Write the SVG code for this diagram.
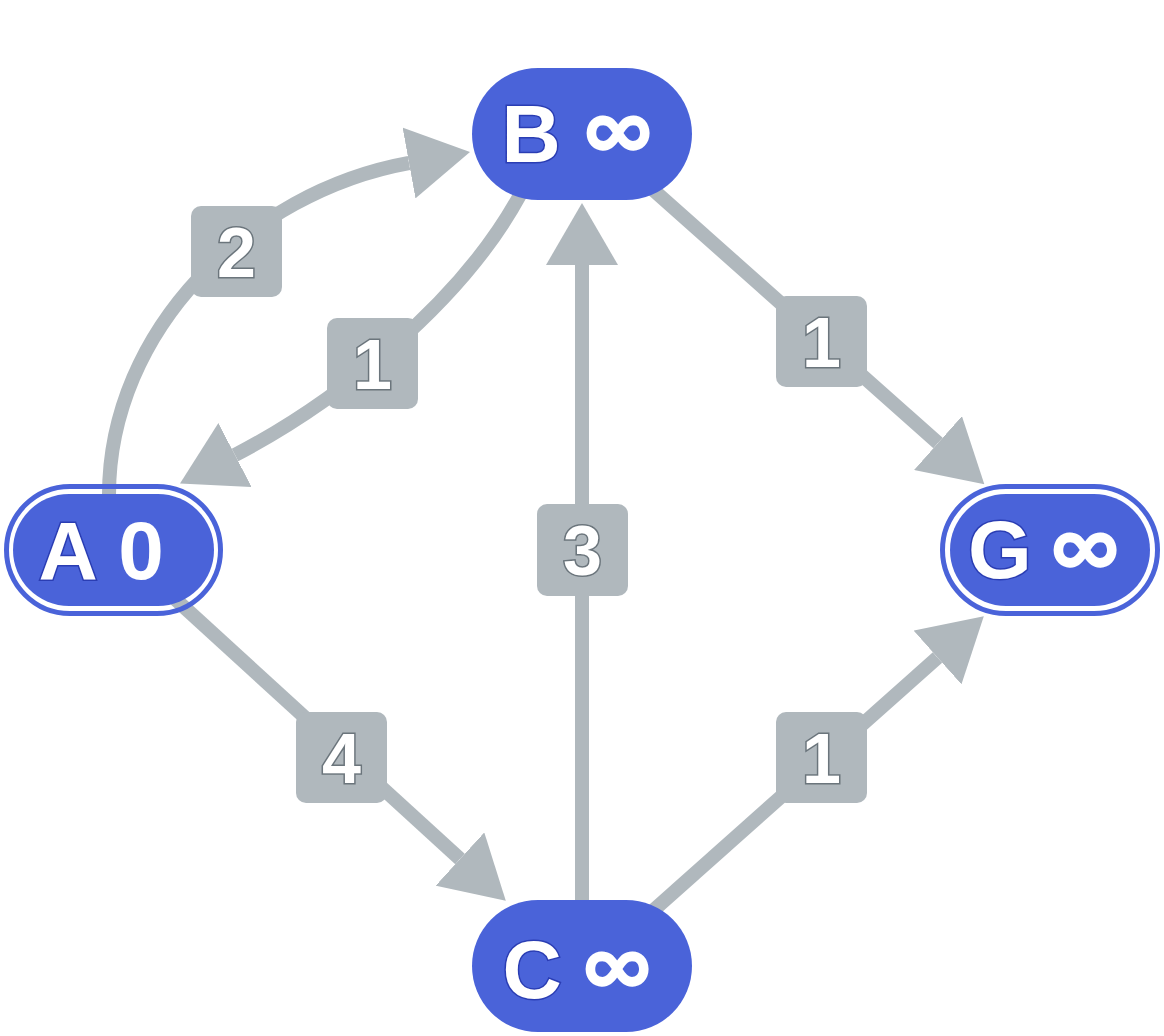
<svg xmlns="http://www.w3.org/2000/svg" width="1164" height="1036" viewBox="0 0 1164 1036">
  <style>
    .edge { fill: none; stroke: #b0b8bd; stroke-width: 14; }
    .lbl-box { fill: #b0b8bd; }
    .lbl { font-family: "Liberation Sans", Arial, sans-serif; font-weight: bold; font-size: 70px; fill: #ffffff; stroke: #6b757c; stroke-width: 3; paint-order: stroke; text-anchor: middle; }
    .node-fill { fill: #4a63d9; }
    .node-ring { fill: none; stroke: #4a63d9; stroke-width: 5; }
    .name { font-family: "Liberation Sans", Arial, sans-serif; font-weight: bold; font-size: 82px; fill: #ffffff; stroke: #2a3db3; stroke-width: 3; paint-order: stroke; text-anchor: middle; }
    .inf { font-family: Lato, "DejaVu Sans", sans-serif; font-size: 98px; stroke: none; }
  </style>
  <defs>
    <marker id="arrow" markerUnits="userSpaceOnUse" viewBox="0 -36 62 72" refX="0" refY="0" markerWidth="62" markerHeight="72" orient="auto">
      <path d="M0,-36 L62,0 L0,36 Z" fill="#b0b8bd"/>
    </marker>
  </defs>
  <rect width="1164" height="1036" fill="#ffffff"/>

  <!-- connectors and their weight labels -->
  <g id="edges">
    <g id="edge-A-B">
      <path class="edge" d="M109,495 C109,330 249,192 409,163" marker-end="url(#arrow)"/>
      <rect class="lbl-box" x="191" y="206" width="91" height="91" rx="10"/>
      <text class="lbl" x="236.5" y="277">2</text>
    </g>
    <g id="edge-B-A">
      <path class="edge" d="M520,195 C460,305 335,403 235,455" marker-end="url(#arrow)"/>
      <rect class="lbl-box" x="327" y="318" width="91" height="91" rx="10"/>
      <text class="lbl" x="372.5" y="389">1</text>
    </g>
    <g id="edge-B-G">
      <path class="edge" d="M623,163 L938,443" marker-end="url(#arrow)"/>
      <rect class="lbl-box" x="776" y="296" width="91" height="91" rx="10"/>
      <text class="lbl" x="821.5" y="367">1</text>
    </g>
    <g id="edge-C-B">
      <path class="edge" d="M582,966 L582,265" marker-end="url(#arrow)"/>
      <rect class="lbl-box" x="537" y="504" width="91" height="92" rx="10"/>
      <text class="lbl" x="582.5" y="575">3</text>
    </g>
    <g id="edge-A-C">
      <path class="edge" d="M138,565 L460,859" marker-end="url(#arrow)"/>
      <rect class="lbl-box" x="296" y="712" width="91" height="91" rx="10"/>
      <text class="lbl" x="341.5" y="783">4</text>
    </g>
    <g id="edge-C-G">
      <path class="edge" d="M619,941 L937.5,657.5" marker-end="url(#arrow)"/>
      <rect class="lbl-box" x="776" y="712" width="91" height="91" rx="10"/>
      <text class="lbl" x="821.5" y="783">1</text>
    </g>
  </g>

  <!-- nodes: name and current distance -->
  <g id="node-B">
    <rect class="node-fill" x="472" y="68" width="220" height="132" rx="66"/>
    <text class="name" y="162"><tspan x="531">B</tspan><tspan class="inf" x="618">∞</tspan></text>
  </g>
  <g id="node-A">
    <rect class="node-ring" x="6.5" y="486.5" width="214" height="127" rx="63.5"/>
    <rect class="node-fill" x="13" y="494" width="201" height="112" rx="56"/>
    <text class="name" y="579"><tspan x="68">A</tspan><tspan x="141" stroke="none">0</tspan></text>
  </g>
  <g id="node-G">
    <rect class="node-ring" x="942.5" y="486.5" width="215" height="127" rx="63.5"/>
    <rect class="node-fill" x="950" y="494" width="200" height="112" rx="56"/>
    <text class="name" y="578"><tspan x="1000">G</tspan><tspan class="inf" x="1085" y="579">∞</tspan></text>
  </g>
  <g id="node-C">
    <rect class="node-fill" x="472" y="900" width="220" height="132" rx="66"/>
    <text class="name" y="998"><tspan x="532">C</tspan><tspan class="inf" x="617">∞</tspan></text>
  </g>
</svg>
